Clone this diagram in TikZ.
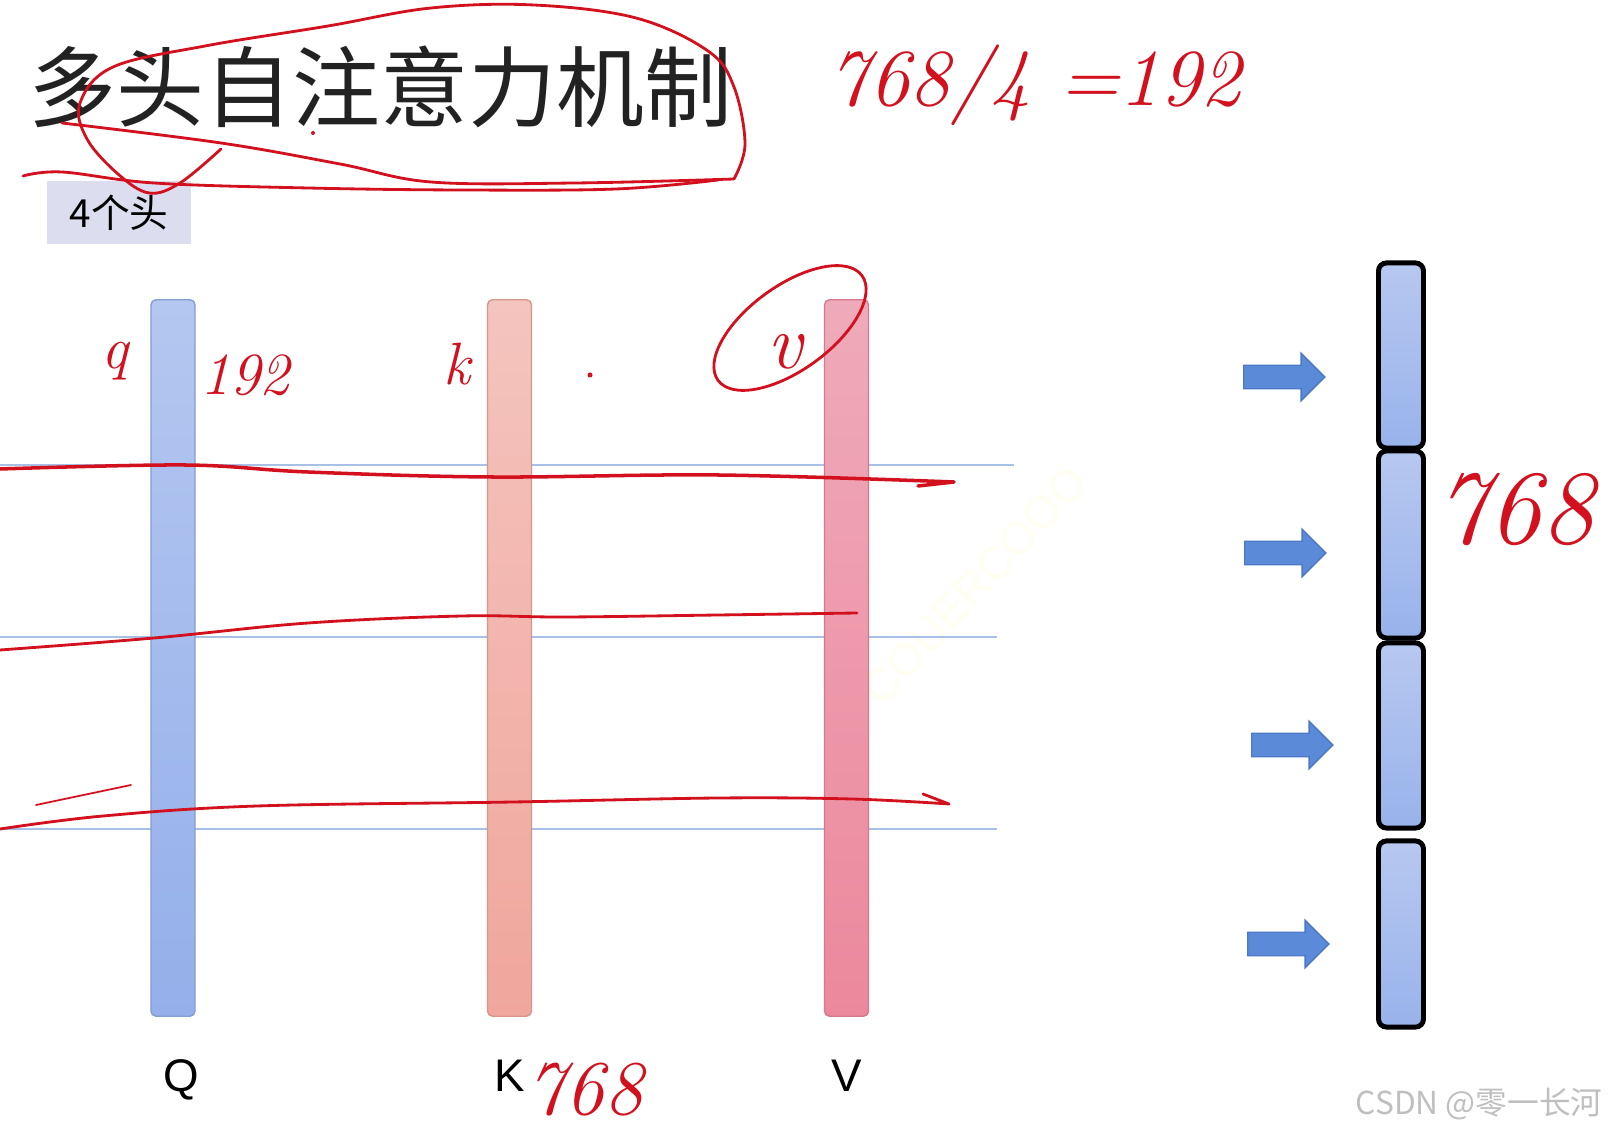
\documentclass[tikz,border=0pt]{standalone}
\usepackage{fontspec}
\usepackage{tikz}
\usetikzlibrary{shapes.arrows, positioning}
\newfontfamily\cjk{Noto Sans CJK SC}
\newfontfamily\arialfont{Liberation Sans}
\definecolor{qtop}{HTML}{B4C7F0}
\definecolor{qbot}{HTML}{94AFEA}
\definecolor{ktop}{HTML}{F4C4BE}
\definecolor{kbot}{HTML}{F0A69C}
\definecolor{vtop}{HTML}{EFAABA}
\definecolor{vbot}{HTML}{EC889C}
\definecolor{btop}{HTML}{B7C8F0}
\definecolor{bbot}{HTML}{98B3EB}
\definecolor{boxlav}{HTML}{DCDDEE}
\definecolor{gridblue}{HTML}{A9C0E6}
\definecolor{arrowblue}{HTML}{5B8BD8}
\definecolor{arrowedge}{HTML}{4C79C4}
\definecolor{handred}{HTML}{D2101E}
\definecolor{titlegray}{HTML}{222222}

\begin{document}
\begin{tikzpicture}[x=0.01cm, y=-0.01cm, node distance=0.42cm,
    bar/.style={rectangle, rounded corners=0.05cm, inner sep=0, minimum width=0.44cm, minimum height=7.16cm},
    lbl/.style={inner sep=0, font=\arialfont\fontsize{13}{15}\selectfont},
    headblk/.style={rectangle, draw=black, line width=1.4pt, rounded corners=0.08cm, inner sep=0, minimum width=0.45cm, top color=btop, bottom color=bbot},
    blkarrow/.style={single arrow, draw=arrowedge, fill=arrowblue, inner xsep=0, inner ysep=0.11cm, minimum height=0.81cm, single arrow head extend=0.12cm, single arrow head indent=0cm, anchor=tail},
    gridline/.style={draw=gridblue, line width=0.6pt},
    redpen/.style={draw=handred, line width=0.8pt, line cap=round, line join=round},
    note/.style={text=handred, inner sep=0, font=\itshape\fontsize{#1}{#1}\selectfont}]
    \useasboundingbox[fill=white] (0,0) rectangle (1609,1131);

    % 标题
    \node[anchor=west, inner sep=0, text=titlegray, font=\cjk\fontsize{25}{28}\selectfont] (title) at (28,87) {多头自注意力机制};
    \node[fill=boxlav, minimum width=1.44cm, minimum height=0.63cm, font=\cjk\fontsize{11}{13}\selectfont] (heads) at (119,212.5) {4个头};

    % 水印
    \node[rotate=47, text=yellow!6, font=\arialfont\fontsize{13}{15}\selectfont] (wm) at (975,585) {COUERCOOO};

    % 横线
    \draw[gridline] (0,465) -- (1014,465);
    \draw[gridline] (0,637) -- (997,637);
    \draw[gridline] (0,829) -- (997,829);

    % Q K V
    \node[bar, top color=qtop, bottom color=qbot, draw=qbot!90!black] (Q) at (173,658) {};
    \node[bar, top color=ktop, bottom color=kbot, draw=kbot!90!black] (K) at (509.5,658) {};
    \node[bar, top color=vtop, bottom color=vbot, draw=vbot!90!black] (V) at (846.5,658) {};
    \node[lbl, below=of Q, xshift=0.08cm] (Qlbl) {Q};
    \node[lbl, below=of K] (Klbl) {K};
    \node[lbl, below=of V] (Vlbl) {V};

    % 右侧分块
    \foreach \i/\by/\bh in {1/355.5/1.85, 2/544.5/1.87, 3/735.5/1.85, 4/934/1.86}
        \node[headblk, minimum height=\bh cm] (blk\i) at (1401,\by) {};
    \foreach \i/\ax/\ay in {1/1243/377, 2/1244/553, 3/1251/745, 4/1247/944}
        \node[blkarrow] (arr\i) at (\ax,\ay) {};

    % 手写标注
    \draw[redpen] plot[smooth, tension=0.6] coordinates {(734,179) (745,144) (734,87) (708,51) (636,18) (534,5) (431,8) (328,26) (205,46) (113,67) (80,103) (87,139) (118,174) (149,193) (180,183) (221,149)};
    \draw[redpen] plot[smooth, tension=0.6] coordinates {(62,123) (221,143) (340,164) (431,182) (575,183) (734,179)};
    \draw[redpen] plot[smooth, tension=0.6] coordinates {(23,176) (62,172) (154,183) (308,188) (462,190) (616,189) (718,180)};
    \fill[handred] (313,133) circle (2);
    \node[note=23] (calc) at (1035,85) {768/4 =192};
    \node[note=17] (qn) at (115,361) {q};
    \node[note=17] (qdim) at (245,375) {192};
    \node[note=17] (kn) at (457,364) {k};
    \fill[handred] (590,375) circle (2.5);
    \draw[redpen, rotate around={36:(790,328)}] (790,328) ellipse [x radius=89, y radius=42];
    \node[note=22] (vn) at (785,352) {v};
    \node[note=30] (dimr) at (1515,510) {768};
    \node[note=22] (dimk) at (585,1090) {768};

    \draw[redpen, line width=1pt] plot[smooth, tension=0.6] coordinates {(0,469) (185,465) (308,472) (492,477) (718,475) (954,482)} -- (918,486);
    \draw[redpen] plot[smooth, tension=0.6] coordinates {(0,650) (154,638) (308,623) (462,616) (564,617) (718,615) (857,613)};
    \draw[redpen] plot[smooth, tension=0.6] coordinates {(0,829) (103,816) (257,806) (513,802) (718,798) (852,799) (949,804)} -- (923,794);
    \draw[redpen, line width=0.5pt] (36,805) -- (131,785);

    % 版权
    \node[anchor=east, inner sep=0, text=gray!50, font=\cjk\fontsize{9}{11}\selectfont] (csdn) at (1603,1104) {CSDN @零一长河};
\end{tikzpicture}
\end{document}
